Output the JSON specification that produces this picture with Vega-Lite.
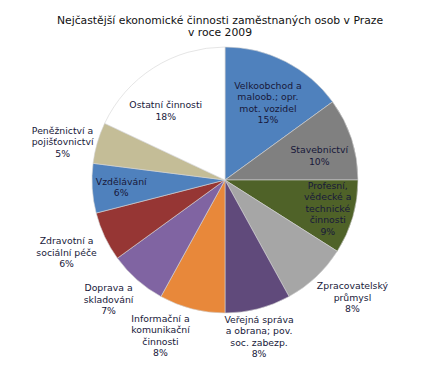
{
  "$schema": "https://vega.github.io/schema/vega-lite/v6.json",
  "width": 450,
  "height": 360,
  "autosize": "none",
  "padding": {"top": 0, "left": 0, "right": 0, "bottom": 24},
  "background": "white",
  "config": {
    "view": {"stroke": null},
    "text": {"font": "DejaVu Sans", "fontSize": 9.3, "lineBreak": "\n", "lineHeight": 11.5, "color": "#18183a", "align": "center", "baseline": "middle"}
  },
  "title": {
    "text": ["Nejčastější ekonomické činnosti zaměstnaných osob v Praze", "v roce 2009"],
    "font": "DejaVu Sans",
    "fontSize": 10.8,
    "fontWeight": "normal",
    "color": "#111111",
    "lineHeight": 12,
    "anchor": "middle",
    "dx": -5,
    "offset": -38
  },
  "data": {
    "values": [
      {"idx": 1, "cat": "Velkoobchod", "value": 15, "label": "Velkoobchod a\nmaloob.; opr.\nmot. vozidel\n15%"},
      {"idx": 2, "cat": "Stavebnictví", "value": 10, "label": "Stavebnictví\n10%"},
      {"idx": 3, "cat": "Profesní", "value": 9, "label": "Profesní,\nvědecké a\ntechnické\nčinnosti\n9%"},
      {"idx": 4, "cat": "Zpracovatelský", "value": 8, "label": "Zpracovatelský\nprůmysl\n8%"},
      {"idx": 5, "cat": "Veřejná", "value": 8, "label": "Veřejná správa\na obrana; pov.\nsoc. zabezp.\n8%"},
      {"idx": 6, "cat": "Informační", "value": 8, "label": "Informační a\nkomunikační\nčinnosti\n8%"},
      {"idx": 7, "cat": "Doprava", "value": 7, "label": "Doprava a\nskladování\n7%"},
      {"idx": 8, "cat": "Zdravotní", "value": 6, "label": "Zdravotní a\nsociální péče\n6%"},
      {"idx": 9, "cat": "Vzdělávání", "value": 6, "label": "Vzdělávání\n6%"},
      {"idx": 10, "cat": "Peněžnictví", "value": 5, "label": "Peněžnictví a\npojišťovnictví\n5%"},
      {"idx": 11, "cat": "Ostatní", "value": 18, "label": "Ostatní činnosti\n18%"}
    ]
  },
  "encoding": {
    "theta": {"field": "value", "type": "quantitative", "stack": true},
    "order": {"field": "idx", "type": "quantitative"}
  },
  "layer": [
    {
      "mark": {"type": "arc", "outerRadius": 133, "stroke": "#d4d4d4", "strokeWidth": 0.6},
      "encoding": {
        "color": {
          "field": "cat",
          "type": "nominal",
          "legend": null,
          "scale": {
            "domain": ["Velkoobchod", "Stavebnictví", "Profesní", "Zpracovatelský", "Veřejná", "Informační", "Doprava", "Zdravotní", "Vzdělávání", "Peněžnictví", "Ostatní"],
            "range": ["#4F81BD", "#808080", "#4F6228", "#A6A6A6", "#604A7B", "#E8883A", "#8064A2", "#963634", "#4F81BD", "#C4BD97", "#FFFFFF"]
          }
        }
      }
    },
    {"mark": {"type": "text", "radius": 88, "dx": 3, "dy": -16},
     "encoding": {"text": {"condition": {"test": "datum.cat === 'Velkoobchod'", "field": "label"}, "value": ""}}},
    {"mark": {"type": "text", "radius": 97, "dx": 2, "dy": 0},
     "encoding": {"text": {"condition": {"test": "datum.cat === 'Stavebnictví'", "field": "label"}, "value": ""}}},
    {"mark": {"type": "text", "radius": 107, "dx": 0, "dy": -24},
     "encoding": {"text": {"condition": {"test": "datum.cat === 'Profesní'", "field": "label"}, "value": ""}}},
    {"mark": {"type": "text", "radius": 173, "dx": 9, "dy": -20},
     "encoding": {"text": {"condition": {"test": "datum.cat === 'Zpracovatelský'", "field": "label"}, "value": ""}}},
    {"mark": {"type": "text", "radius": 161, "dx": -6, "dy": -16},
     "encoding": {"text": {"condition": {"test": "datum.cat === 'Veřejná'", "field": "label"}, "value": ""}}},
    {"mark": {"type": "text", "radius": 167, "dx": -23, "dy": -23},
     "encoding": {"text": {"condition": {"test": "datum.cat === 'Informační'", "field": "label"}, "value": ""}}},
    {"mark": {"type": "text", "radius": 167, "dx": -6, "dy": -17},
     "encoding": {"text": {"condition": {"test": "datum.cat === 'Doprava'", "field": "label"}, "value": ""}}},
    {"mark": {"type": "text", "radius": 174, "dx": -1, "dy": -13},
     "encoding": {"text": {"condition": {"test": "datum.cat === 'Zdravotní'", "field": "label"}, "value": ""}}},
    {"mark": {"type": "text", "radius": 104, "dx": 0, "dy": -5},
     "encoding": {"text": {"condition": {"test": "datum.cat === 'Vzdělávání'", "field": "label"}, "value": ""}}},
    {"mark": {"type": "text", "radius": 166, "dx": -3, "dy": -3},
     "encoding": {"text": {"condition": {"test": "datum.cat === 'Peněžnictví'", "field": "label"}, "value": ""}}},
    {"mark": {"type": "text", "radius": 90, "dx": -11, "dy": 1},
     "encoding": {"text": {"condition": {"test": "datum.cat === 'Ostatní'", "field": "label"}, "value": ""}}}
  ]
}
